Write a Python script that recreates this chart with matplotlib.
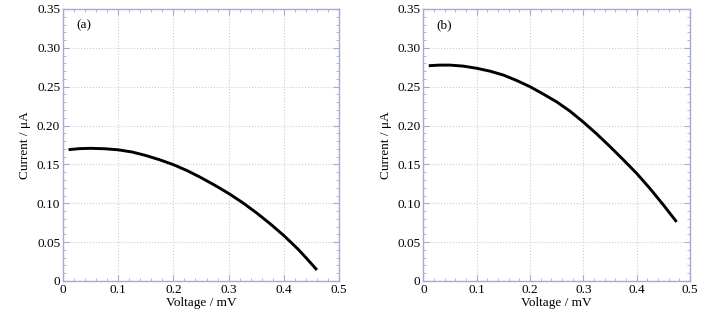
import matplotlib.pyplot as plt
import numpy as np
from matplotlib.ticker import MultipleLocator

plt.rcParams['font.family'] = ['Liberation Serif', 'DejaVu Serif']

# panel (a)
volt_a = [0.01, 0.03, 0.05, 0.075, 0.10, 0.125, 0.15, 0.175, 0.20, 0.225, 0.25,
          0.275, 0.30, 0.325, 0.35, 0.375, 0.40, 0.425, 0.44, 0.46]
curr_a = [0.169, 0.1703, 0.1707, 0.1702, 0.1688, 0.1660, 0.1615, 0.1560, 0.1497, 0.1420, 0.1330,
          0.1232, 0.1127, 0.1010, 0.0880, 0.0738, 0.0585, 0.0415, 0.0301, 0.0142]

# panel (b)
volt_b = [0.01, 0.03, 0.05, 0.075, 0.10, 0.125, 0.15, 0.175, 0.20, 0.225, 0.25,
          0.275, 0.30, 0.325, 0.35, 0.375, 0.40, 0.425, 0.45, 0.475]
curr_b = [0.2770, 0.2778, 0.2778, 0.2765, 0.2737, 0.2700, 0.2650, 0.2580, 0.2500, 0.2405, 0.2305,
          0.2185, 0.2045, 0.1893, 0.1730, 0.1560, 0.1385, 0.1190, 0.0980, 0.0760]

frame_col = '#a3abd6'
grid_col = '#c8cbe0'

fig = plt.figure(figsize=(7.14, 3.18), dpi=100)
ax_a = fig.add_axes([0.0882, 0.1164, 0.3866, 0.8553])
ax_b = fig.add_axes([0.5930, 0.1164, 0.3733, 0.8553])

for ax, v, c, tag in [(ax_a, volt_a, curr_a, '(a)'), (ax_b, volt_b, curr_b, '(b)')]:
    ax.plot(v, c, color='black', lw=2.1, solid_capstyle='butt', solid_joinstyle='round')
    ax.set_xlim(0, 0.5)
    ax.set_ylim(0, 0.35)
    ax.set_xticks(np.arange(0, 0.51, 0.1))
    ax.set_xticklabels(['0', '0.1', '0.2', '0.3', '0.4', '0.5'])
    ax.set_yticks(np.arange(0, 0.351, 0.05))
    ax.set_yticklabels(['0', '0.05', '0.10', '0.15', '0.20', '0.25', '0.30', '0.35'])
    ax.xaxis.set_minor_locator(MultipleLocator(0.02))
    ax.yaxis.set_minor_locator(MultipleLocator(0.01))
    ax.tick_params(which='both', direction='in', top=True, right=True,
                   color=frame_col, labelsize=9.5, pad=2)
    ax.tick_params(which='major', length=4)
    ax.tick_params(which='minor', length=2)
    ax.grid(True, which='major', linestyle=':', color=grid_col, lw=0.8)
    for s in ax.spines.values():
        s.set_color(frame_col)
        s.set_linewidth(1.0)
    ax.set_xlabel('Voltage / mV', fontsize=9.5, labelpad=1)
    ax.set_ylabel('Current / μA', fontsize=9.5, labelpad=4)
    ax.text(0.05, 0.94, tag, transform=ax.transAxes, fontsize=9.5, va='center')

fig.savefig('out.png', dpi=100)
